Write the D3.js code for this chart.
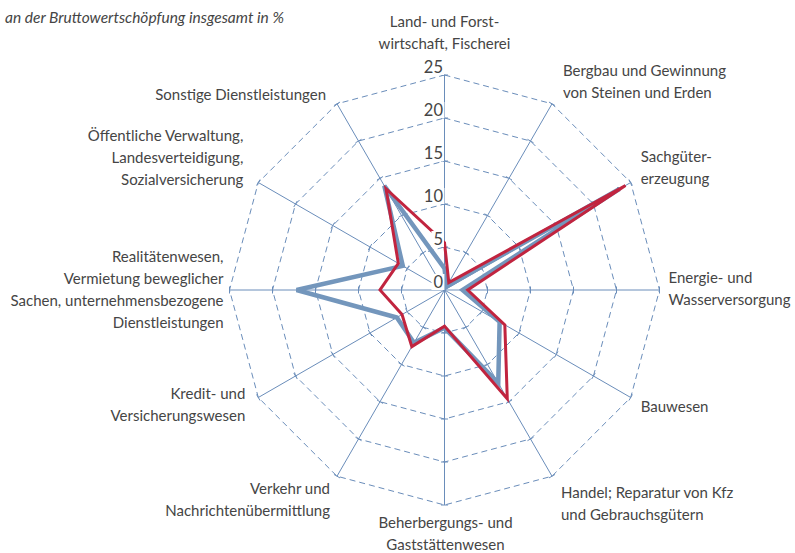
<!DOCTYPE html>
<meta charset="utf-8">
<script src="https://d3js.org/d3.v7.min.js"></script>
<style>
    body { margin: 0; background: #fff; }
    text { font-family: Lato, "Open Sans", sans-serif; fill: #454545; }
</style>
<body>
    <div id="chart"></div>
</body>
<script>
    // categories clockwise from the top, each split into its printed lines
    const categories = [
        ["Land- und Forst-", "wirtschaft, Fischerei"],
        ["Bergbau und Gewinnung", "von Steinen und Erden"],
        ["Sachgüter-", "erzeugung"],
        ["Energie- und", "Wasserversorgung"],
        ["Bauwesen"],
        ["Handel; Reparatur von Kfz", "und Gebrauchsgütern"],
        ["Beherbergungs- und", "Gaststättenwesen"],
        ["Verkehr und", "Nachrichtenübermittlung"],
        ["Kredit- und", "Versicherungswesen"],
        ["Realitätenwesen,", "Vermietung beweglicher", "Sachen, unternehmensbezogene", "Dienstleistungen"],
        ["Öffentliche Verwaltung,", "Landesverteidigung,", "Sozialversicherung"],
        ["Sonstige Dienstleistungen"]
    ];
    const blueValues = [2.5, 0.5, 23.5, 2.1, 7.4, 12.5, 4.4, 7.1, 6.4, 17.2, 5.6, 14.0];
    const redValues = [5.5, 1.0, 24.3, 2.7, 8.1, 14.6, 4.2, 7.6, 5.7, 7.5, 6.2, 13.6];
    const tickValues = [0, 5, 10, 15, 20, 25];
    const title = "an der Bruttowertschöpfung insgesamt in %";

    // small hand tweaks for label placement, [dx, dy]
    const labelNudge = [[0, -12], [1, 4], [0, 0], [-1, -1], [0, 0], [-1, 2],
                        [1, -1], [3, -2], [-3, -8], [4, 0], [-5, -4], [-1, 8]];

    const width = 795, height = 553;
    const cx = 444.5, cy = 290, R = 215;
    const lineH = 22;
    const gridColor = "#6a8dba";

    const svg = d3.select("#chart").append("svg")
        .attr("width", width)
        .attr("height", height);

    svg.append("text")
        .attr("x", 5)
        .attr("y", 23)
        .style("font-size", "15.5px")
        .style("font-style", "italic")
        .text(title);

    const g = svg.append("g").attr("transform", `translate(${cx},${cy})`);

    const r = d3.scaleLinear().domain([0, 25]).range([0, R]);
    const step = 2 * Math.PI / categories.length;
    const angle = i => i * step;
    const pt = (i, v) => [Math.sin(angle(i)) * r(v), -Math.cos(angle(i)) * r(v)];

    // dashed rings
    const ringLine = d3.lineRadial()
        .angle((d, i) => angle(i))
        .radius(d => r(d))
        .curve(d3.curveLinearClosed);

    g.selectAll(".ring")
        .data(tickValues.filter(t => t > 0))
        .join("path")
        .attr("class", "ring")
        .attr("d", t => ringLine(categories.map(() => t)))
        .attr("fill", "none")
        .attr("stroke", gridColor)
        .attr("stroke-width", 1)
        .attr("stroke-dasharray", "6,4");

    // spokes
    g.selectAll(".spoke")
        .data(categories)
        .join("line")
        .attr("class", "spoke")
        .attr("x1", 0).attr("y1", 0)
        .attr("x2", (d, i) => pt(i, 25)[0])
        .attr("y2", (d, i) => pt(i, 25)[1])
        .attr("stroke", gridColor)
        .attr("stroke-width", 1);

    // little tick marks across every spoke
    const tickMarks = [];
    categories.forEach((c, i) => tickValues.filter(t => t > 0).forEach(t => tickMarks.push({ i, t })));
    g.selectAll(".tickmark")
        .data(tickMarks)
        .join("line")
        .attr("class", "tickmark")
        .attr("x1", d => pt(d.i, d.t)[0] - Math.cos(angle(d.i)) * 3.5)
        .attr("y1", d => pt(d.i, d.t)[1] - Math.sin(angle(d.i)) * 3.5)
        .attr("x2", d => pt(d.i, d.t)[0] + Math.cos(angle(d.i)) * 3.5)
        .attr("y2", d => pt(d.i, d.t)[1] + Math.sin(angle(d.i)) * 3.5)
        .attr("stroke", gridColor)
        .attr("stroke-width", 1);

    // the two series
    const seriesLine = d3.lineRadial()
        .angle((d, i) => angle(i))
        .radius(d => r(d))
        .curve(d3.curveLinearClosed);

    g.append("path")
        .attr("d", seriesLine(blueValues))
        .attr("fill", "none")
        .attr("stroke", "#7396bc")
        .attr("stroke-width", 4.5);

    g.append("path")
        .attr("d", seriesLine(redValues))
        .attr("fill", "none")
        .attr("stroke", "#c1243f")
        .attr("stroke-width", 3);

    // value labels on the top spoke, with white boxes
    const tl = g.selectAll(".ticklabel")
        .data(tickValues)
        .join("g")
        .attr("class", "ticklabel")
        .attr("transform", t => `translate(-1.5,${-r(t) - 8})`);

    tl.append("text")
        .attr("text-anchor", "end")
        .attr("y", 6)
        .style("font-size", "16.5px")
        .text(t => t);

    tl.each(function() {
        const b = d3.select(this).select("text").node().getBBox();
        d3.select(this).insert("rect", "text")
            .attr("x", b.x - 2)
            .attr("y", -8)
            .attr("width", b.width + 3)
            .attr("height", 16)
            .attr("fill", "#fff");
    });

    // category labels
    categories.forEach((lines, i) => {
        const dx = Math.sin(angle(i)), dy = -Math.cos(angle(i));
        const end = pt(i, 25);
        const h = lines.length * lineH;
        let x, anchor;
        if (Math.abs(dx) < 0.01) { x = end[0]; anchor = "middle"; }
        else if (dx > 0) { x = end[0] + 10; anchor = "start"; }
        else { x = end[0] - 10; anchor = "end"; }
        x += labelNudge[i][0];
        const yc = end[1] + dy * (h / 2 + 8) + labelNudge[i][1];
        const t = g.append("text")
            .attr("text-anchor", anchor)
            .style("font-size", "15px");
        lines.forEach((s, k) => {
            t.append("tspan")
                .attr("x", x)
                .attr("y", yc - h / 2 + k * lineH + lineH / 2 + 5)
                .text(s);
        });
    });
</script>
